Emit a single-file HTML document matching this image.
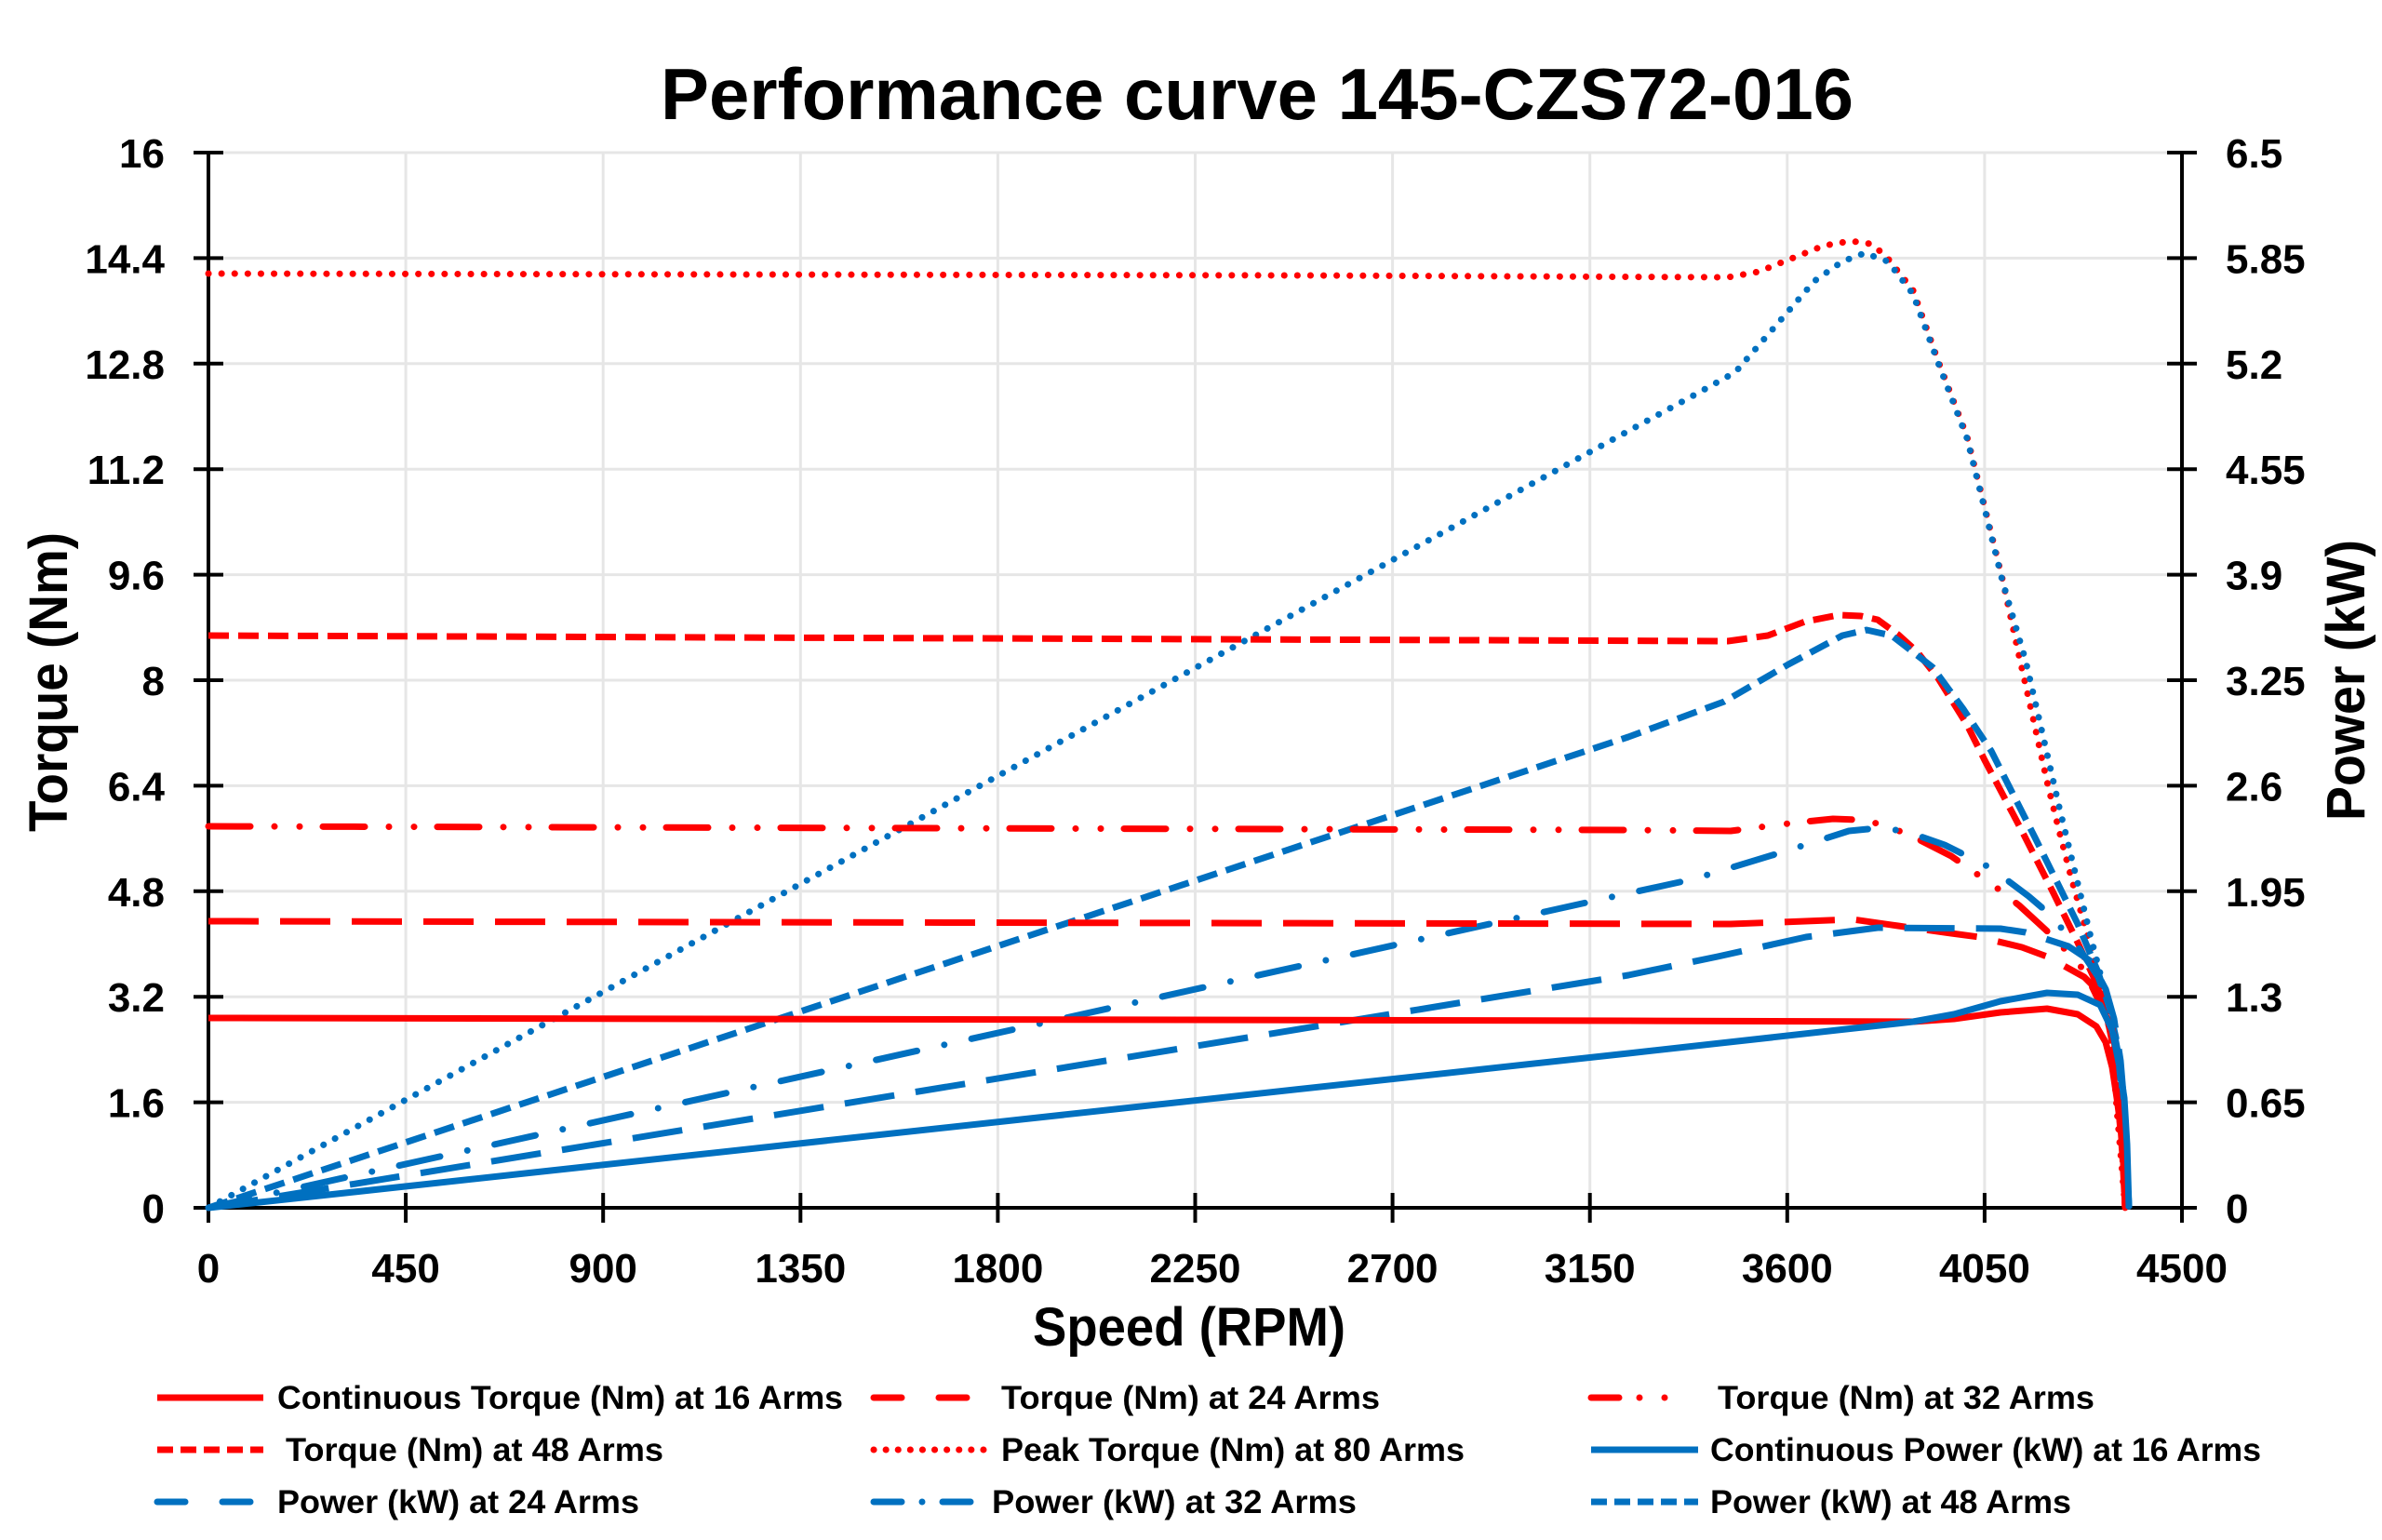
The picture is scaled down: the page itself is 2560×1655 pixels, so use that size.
<!DOCTYPE html>
<html><head><meta charset="utf-8"><style>
html,body{margin:0;padding:0;background:#fff;}
svg{display:block;}
text{font-family:"Liberation Sans",sans-serif;font-weight:bold;fill:#000;}
</style></head><body>
<svg width="2560" height="1655" viewBox="0 0 2560 1655" xmlns="http://www.w3.org/2000/svg">
<rect width="2560" height="1655" fill="#fff"/>
<text x="1351" y="128" font-size="78" text-anchor="middle" textLength="1282" lengthAdjust="spacingAndGlyphs">Performance curve 145-CZS72-016</text>
<g stroke="#e6e6e6" stroke-width="3">
<line x1="224" y1="164" x2="2345" y2="164"/><line x1="224" y1="277.4" x2="2345" y2="277.4"/><line x1="224" y1="390.8" x2="2345" y2="390.8"/><line x1="224" y1="504.2" x2="2345" y2="504.2"/><line x1="224" y1="617.6" x2="2345" y2="617.6"/><line x1="224" y1="731" x2="2345" y2="731"/><line x1="224" y1="844.4" x2="2345" y2="844.4"/><line x1="224" y1="957.8" x2="2345" y2="957.8"/><line x1="224" y1="1071.2" x2="2345" y2="1071.2"/><line x1="224" y1="1184.6" x2="2345" y2="1184.6"/>
<line x1="436.1" y1="164" x2="436.1" y2="1298"/><line x1="648.2" y1="164" x2="648.2" y2="1298"/><line x1="860.3" y1="164" x2="860.3" y2="1298"/><line x1="1072.4" y1="164" x2="1072.4" y2="1298"/><line x1="1284.5" y1="164" x2="1284.5" y2="1298"/><line x1="1496.6" y1="164" x2="1496.6" y2="1298"/><line x1="1708.7" y1="164" x2="1708.7" y2="1298"/><line x1="1920.8" y1="164" x2="1920.8" y2="1298"/><line x1="2132.9" y1="164" x2="2132.9" y2="1298"/>
</g>
<g stroke="#000" stroke-width="4" fill="none">
<line x1="224" y1="164" x2="224" y2="1300"/><line x1="2345" y1="164" x2="2345" y2="1300"/><line x1="222" y1="1298" x2="2347" y2="1298"/>
<path d="M208 164H240M208 277.4H240M208 390.8H240M208 504.2H240M208 617.6H240M208 731H240M208 844.4H240M208 957.8H240M208 1071.2H240M208 1184.6H240M208 1298H240"/>
<path d="M2329 164H2361M2329 277.4H2361M2329 390.8H2361M2329 504.2H2361M2329 617.6H2361M2329 731H2361M2329 844.4H2361M2329 957.8H2361M2329 1071.2H2361M2329 1184.6H2361M2329 1298H2361"/>
<path d="M224 1282V1314M436.1 1282V1314M648.2 1282V1314M860.3 1282V1314M1072.4 1282V1314M1284.5 1282V1314M1496.6 1282V1314M1708.7 1282V1314M1920.8 1282V1314M2132.9 1282V1314M2345 1282V1314"/>
</g>
<g font-size="44" text-anchor="end">
<text x="177" y="180">16</text><text x="177" y="293.4">14.4</text><text x="177" y="406.8">12.8</text><text x="177" y="520.2">11.2</text><text x="177" y="633.6">9.6</text><text x="177" y="747">8</text><text x="177" y="860.4">6.4</text><text x="177" y="973.8">4.8</text><text x="177" y="1087.2">3.2</text><text x="177" y="1200.6">1.6</text><text x="177" y="1314">0</text>
</g>
<g font-size="44">
<text x="2392" y="180">6.5</text><text x="2392" y="293.4">5.85</text><text x="2392" y="406.8">5.2</text><text x="2392" y="520.2">4.55</text><text x="2392" y="633.6">3.9</text><text x="2392" y="747">3.25</text><text x="2392" y="860.4">2.6</text><text x="2392" y="973.8">1.95</text><text x="2392" y="1087.2">1.3</text><text x="2392" y="1200.6">0.65</text><text x="2392" y="1314">0</text>
</g>
<g font-size="44" text-anchor="middle">
<text x="224" y="1378">0</text><text x="436.1" y="1378">450</text><text x="648.2" y="1378">900</text><text x="860.3" y="1378">1350</text><text x="1072.4" y="1378">1800</text><text x="1284.5" y="1378">2250</text><text x="1496.6" y="1378">2700</text><text x="1708.7" y="1378">3150</text><text x="1920.8" y="1378">3600</text><text x="2132.9" y="1378">4050</text><text x="2345" y="1378">4500</text>
</g>
<text x="1278" y="1446" font-size="58" text-anchor="middle" textLength="336" lengthAdjust="spacingAndGlyphs">Speed (RPM)</text>
<text transform="translate(72,733) rotate(-90)" font-size="58" text-anchor="middle" textLength="322" lengthAdjust="spacingAndGlyphs">Torque (Nm)</text>
<text transform="translate(2541,731) rotate(-90)" font-size="58" text-anchor="middle" textLength="302" lengthAdjust="spacingAndGlyphs">Power (kW)</text>

<g fill="none" stroke-linejoin="round">
<!-- Peak torque 80A -->
<polyline stroke="#ff0000" stroke-width="7" stroke-linecap="round" stroke-dasharray="0.1 14" points="224,294 1400,296 1857,298 1890,292 1930,276 1960,264 1989,259 2010,262 2026,274 2056,312 2083,388 2114,469 2133,545 2152,622 2170,705 2185,772 2200,840 2213,893 2227,947 2247,1017 2262,1075 2270,1120 2275,1192 2280,1250 2284,1298"/>
<!-- Peak power 80A -->
<polyline stroke="#0070c0" stroke-width="7" stroke-linecap="round" stroke-dasharray="0.1 14" points="224,1298 1754,461 1820,425 1865,400 1918,339 1950,302 1980,281 2004,272 2029,281 2056,316 2083,390 2114,471 2133,547 2152,624 2177,710 2195,788 2213,867 2230,937 2247,1007 2262,1065 2272,1110 2280,1170 2285,1240 2288,1298"/>
<!-- 48A torque -->
<polyline stroke="#ff0000" stroke-width="7" stroke-dasharray="22 10" points="224,683 1857,689 1900,683 1940,668 1976,661 2000,662 2018,666 2040,682 2060,700 2083,729 2114,779 2133,817 2173,893 2207,960 2233,1013 2250,1050 2262,1080 2270,1120 2276,1180 2281,1240 2284,1298"/>
<!-- 48A power -->
<polyline stroke="#0070c0" stroke-width="7" stroke-dasharray="22 10" points="224,1298 1750,792 1853,754 1922,714 1980,683 2006,677 2033,683 2077,717 2110,762 2140,807 2187,900 2233,993 2255,1045 2266,1080 2274,1115 2280,1160 2285,1230 2288,1298"/>
<!-- 32A torque -->
<polyline stroke="#ff0000" stroke-width="7" stroke-linecap="round" stroke-dasharray="45 26 0 27 0 25" points="224,888 1750,892 1860,893 1930,884 1970,880 1995,881 2008,882 2050,896 2097,920 2147,955 2170,973 2207,1007 2240,1043 2253,1070 2265,1095 2273,1140 2279,1190 2284,1250 2286,1298"/>
<!-- 32A power -->
<polyline stroke="#0070c0" stroke-width="7" stroke-linecap="round" stroke-dasharray="45 30 0 30" points="224,1298 1750,960 1819,945 1918,915 1987,893 2018,890 2047,893 2090,908 2140,933 2180,963 2200,980 2233,1017 2255,1050 2267,1083 2276,1130 2282,1190 2286,1250 2288,1298"/>
<!-- 24A torque -->
<polyline stroke="#ff0000" stroke-width="7" stroke-dasharray="54 23" points="224,990 1860,993 1940,990 1991,988 2040,995 2097,1003 2127,1007 2173,1018 2200,1028 2240,1050 2258,1068 2268,1090 2275,1140 2280,1200 2284,1298"/>
<!-- 24A power -->
<polyline stroke="#0070c0" stroke-width="7" stroke-dasharray="54 23" points="224,1298 1750,1048 1846,1028 1941,1007 2018,997 2150,998 2177,1002 2223,1017 2247,1033 2263,1063 2272,1095 2279,1140 2284,1200 2288,1298"/>
<!-- 16A torque -->
<polyline stroke="#ff0000" stroke-width="7" points="224,1094 1750,1097 2056,1098 2100,1095 2150,1088 2200,1084 2233,1090 2253,1103 2263,1120 2270,1147 2275,1180 2279,1210 2282,1250 2284,1298"/>
<!-- 16A power -->
<polyline stroke="#0070c0" stroke-width="7" points="224,1298 1750,1132 2056,1098 2100,1090 2150,1076 2200,1067 2233,1069 2257,1080 2270,1107 2278,1147 2283,1180 2286,1230 2288,1298"/>
</g>

<!-- Legend -->
<g fill="none" stroke-width="7">
<line x1="169" y1="1502" x2="283" y2="1502" stroke="#ff0000"/>
<line x1="939" y1="1502" x2="1057" y2="1502" stroke="#ff0000" stroke-linecap="round" stroke-dasharray="30 40"/>
<line x1="1710" y1="1502" x2="1825" y2="1502" stroke="#ff0000" stroke-linecap="round" stroke-dasharray="30 22 0 27 0 40"/>
<line x1="169" y1="1558" x2="283" y2="1558" stroke="#ff0000" stroke-dasharray="17 8"/>
<line x1="939" y1="1558" x2="1057" y2="1558" stroke="#ff0000" stroke-linecap="round" stroke-dasharray="0.1 13"/>
<line x1="1710" y1="1558" x2="1825" y2="1558" stroke="#0070c0"/>
<line x1="169" y1="1614" x2="283" y2="1614" stroke="#0070c0" stroke-linecap="round" stroke-dasharray="30 40"/>
<line x1="939" y1="1614" x2="1057" y2="1614" stroke="#0070c0" stroke-linecap="round" stroke-dasharray="30 22 0 22"/>
<line x1="1710" y1="1614" x2="1825" y2="1614" stroke="#0070c0" stroke-dasharray="17 8"/>
</g>
<g font-size="35">
<text x="298" y="1514" textLength="608" lengthAdjust="spacingAndGlyphs">Continuous Torque (Nm) at 16 Arms</text>
<text x="1076" y="1514" textLength="407" lengthAdjust="spacingAndGlyphs">Torque (Nm) at 24 Arms</text>
<text x="1846" y="1514" textLength="405" lengthAdjust="spacingAndGlyphs">Torque (Nm) at 32 Arms</text>
<text x="307" y="1570" textLength="406" lengthAdjust="spacingAndGlyphs">Torque (Nm) at 48 Arms</text>
<text x="1076" y="1570" textLength="498" lengthAdjust="spacingAndGlyphs">Peak Torque (Nm) at 80 Arms</text>
<text x="1838" y="1570" textLength="592" lengthAdjust="spacingAndGlyphs">Continuous Power (kW) at 16 Arms</text>
<text x="298" y="1626" textLength="389" lengthAdjust="spacingAndGlyphs">Power (kW) at 24 Arms</text>
<text x="1066" y="1626" textLength="392" lengthAdjust="spacingAndGlyphs">Power (kW) at 32 Arms</text>
<text x="1838" y="1626" textLength="388" lengthAdjust="spacingAndGlyphs">Power (kW) at 48 Arms</text>
</g>
</svg>
</body></html>
